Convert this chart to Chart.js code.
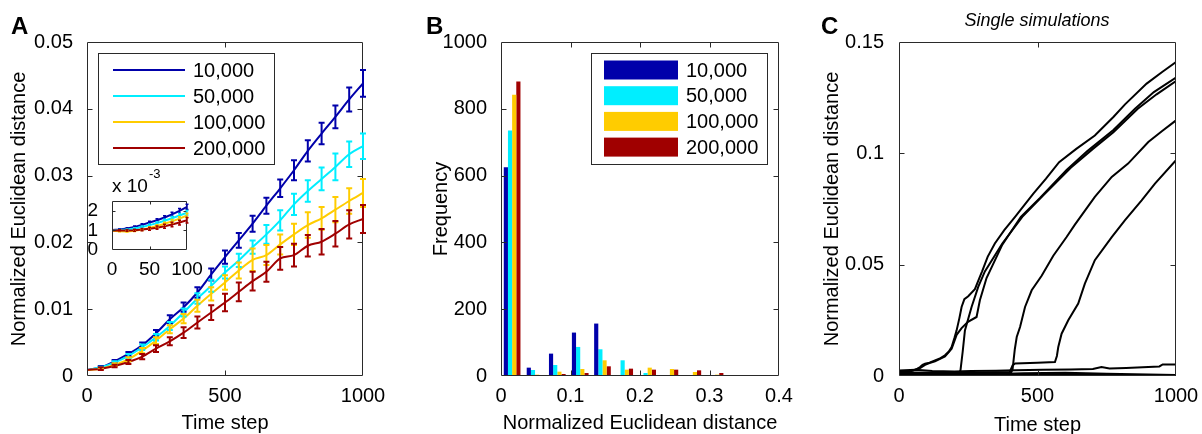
<!DOCTYPE html>
<html>
<head>
<meta charset="utf-8">
<script src="https://cdn.jsdelivr.net/npm/chart.js@4.4.1/dist/chart.umd.min.js"></script>
<style>
  html, body { margin: 0; padding: 0; background: #fff; }
  #wrap { position: relative; width: 1202px; height: 434px; overflow: hidden; background: #fff; }
  #wrap canvas { position: absolute; top: 0; }
</style>
</head>
<body>
<div id="wrap">
  <canvas id="panelA" width="400" height="434" style="left:0"></canvas>
  <canvas id="panelAInset" width="400" height="434" style="left:0"></canvas>
  <canvas id="panelB" width="400" height="434" style="left:400px"></canvas>
  <canvas id="panelC" width="402" height="434" style="left:800px"></canvas>
</div>
<script>
// ---------------- data ----------------
const seriesLabels = ['10,000', '50,000', '100,000', '200,000'];
const seriesColors = ['#0000AA', '#00EEFF', '#FFCC00', '#A00000'];

// Panel A: mean normalized Euclidean distance with error bars
const timeSteps = [0, 50, 100, 150, 200, 250, 300, 350, 400, 450, 500, 550, 600, 650, 700, 750, 800, 850, 900, 950, 1000];
const mean10k  = [0.0009, 0.0013, 0.0022, 0.0033, 0.0046, 0.0064, 0.0085, 0.0103, 0.0125, 0.0152, 0.0178, 0.0203, 0.0228, 0.0255, 0.0281, 0.0308, 0.0337, 0.0363, 0.0388, 0.0414, 0.0438];
const mean50k  = [0.0009, 0.0013, 0.0020, 0.0030, 0.0043, 0.0058, 0.0075, 0.0095, 0.0116, 0.0135, 0.0155, 0.0173, 0.0193, 0.0212, 0.0233, 0.0257, 0.0277, 0.0295, 0.0313, 0.0332, 0.0344];
const mean100k = [0.0009, 0.0011, 0.0017, 0.0025, 0.0038, 0.0053, 0.0070, 0.0086, 0.0105, 0.0123, 0.0140, 0.0158, 0.0174, 0.0181, 0.0197, 0.0212, 0.0226, 0.0236, 0.0249, 0.0262, 0.0274];
const mean200k = [0.0009, 0.0011, 0.0015, 0.0021, 0.0029, 0.0041, 0.0052, 0.0065, 0.0080, 0.0095, 0.0110, 0.0126, 0.0142, 0.0156, 0.0176, 0.0181, 0.0195, 0.0201, 0.0213, 0.0227, 0.0235];
const err10k   = [0.0001, 0.0002, 0.0002, 0.0003, 0.0004, 0.0005, 0.0006, 0.0007, 0.0008, 0.0009, 0.0010, 0.0011, 0.0012, 0.0012, 0.0013, 0.0015, 0.0016, 0.0016, 0.0017, 0.0018, 0.0020];
const err50k   = [0.0001, 0.0001, 0.0002, 0.0003, 0.0004, 0.0005, 0.0006, 0.0006, 0.0008, 0.0009, 0.0009, 0.0010, 0.0010, 0.0014, 0.0015, 0.0016, 0.0016, 0.0017, 0.0020, 0.0019, 0.0019];
const err100k  = [0.0001, 0.0001, 0.0002, 0.0003, 0.0004, 0.0005, 0.0006, 0.0007, 0.0009, 0.0010, 0.0011, 0.0012, 0.0017, 0.0015, 0.0015, 0.0016, 0.0019, 0.0017, 0.0019, 0.0019, 0.0021];
const err200k  = [0.0001, 0.0002, 0.0002, 0.0003, 0.0004, 0.0005, 0.0006, 0.0008, 0.0009, 0.0011, 0.0013, 0.0014, 0.0014, 0.0015, 0.0017, 0.0017, 0.0016, 0.0019, 0.0019, 0.0021, 0.0021];

// Panel A inset: first 100 steps, in units of 1e-3
const insetSteps = [0, 10, 20, 30, 40, 50, 60, 70, 80, 90, 100];
const inset10k  = [1.02, 1.05, 1.10, 1.18, 1.28, 1.40, 1.52, 1.66, 1.82, 2.00, 2.20];
const inset50k  = [1.00, 1.02, 1.05, 1.10, 1.17, 1.27, 1.37, 1.49, 1.62, 1.76, 1.90];
const inset100k = [0.98, 0.96, 0.95, 0.98, 1.04, 1.12, 1.22, 1.34, 1.46, 1.60, 1.76];
const inset200k = [1.00, 1.00, 1.00, 1.01, 1.04, 1.08, 1.14, 1.21, 1.30, 1.40, 1.52];
const insetErr10k  = [0.02, 0.03, 0.04, 0.05, 0.06, 0.07, 0.08, 0.09, 0.10, 0.12, 0.13];
const insetErr50k  = [0.02, 0.03, 0.03, 0.04, 0.05, 0.06, 0.07, 0.08, 0.09, 0.10, 0.12];
const insetErr100k = [0.02, 0.03, 0.03, 0.04, 0.05, 0.06, 0.07, 0.08, 0.09, 0.10, 0.12];
const insetErr200k = [0.02, 0.03, 0.04, 0.05, 0.06, 0.07, 0.08, 0.10, 0.11, 0.12, 0.14];

// Panel B: histogram of final distances
const binCenters = [0.016, 0.049, 0.081, 0.114, 0.146, 0.178, 0.211, 0.243, 0.276, 0.308];
const freq10k  = [625, 25, 67, 130, 157, 2, 0, 0, 0, 1];
const freq50k  = [735, 18, 33, 87, 80, 47, 9, 2, 0, 0];
const freq100k = [842, 4, 13, 21, 47, 19, 25, 21, 12, 4];
const freq200k = [882, 3, 6, 9, 29, 22, 19, 19, 17, 9];

// Panel C: single simulation runs, [time step, distance]
const run1 = [[0,0.0022],[40,0.0024],[60,0.0028],[76,0.0040],[85,0.0050],[94,0.0055],[110,0.0060],[130,0.0070],[150,0.0080],[166,0.0093],[180,0.0110],[190,0.0130],[200,0.0170],[208,0.0205],[218,0.0260],[226,0.0310],[236,0.0345],[250,0.0358],[274,0.0390],[290,0.0440],[300,0.0470],[320,0.0535],[346,0.0595],[380,0.0655],[419,0.0715],[485,0.0819],[530,0.0885],[578,0.0960],[640,0.1020],[707,0.1080],[774,0.1163],[816,0.1220],[894,0.1313],[950,0.1365],[1000,0.1410]];
const run2 = [[0,0.0018],[40,0.0020],[76,0.0036],[94,0.0050],[110,0.0058],[130,0.0066],[166,0.0088],[190,0.0122],[208,0.0185],[226,0.0215],[249,0.0243],[280,0.0265],[292,0.0340],[316,0.0440],[373,0.0590],[440,0.0715],[509,0.0800],[605,0.0925],[680,0.1010],[774,0.1105],[852,0.1200],[920,0.1275],[1000,0.1340]];
const run3 = [[0,0.0016],[120,0.0015],[218,0.0015],[222,0.0026],[230,0.0110],[238,0.0205],[262,0.0310],[286,0.0400],[310,0.0470],[373,0.0595],[445,0.0715],[520,0.0810],[620,0.0935],[700,0.1020],[774,0.1095],[862,0.1200],[930,0.1265],[1000,0.1325]];
const run4 = [[0,0.0010],[200,0.0012],[405,0.0016],[410,0.0030],[418,0.0120],[425,0.0175],[437,0.0220],[455,0.0310],[479,0.0385],[515,0.0450],[557,0.0540],[605,0.0624],[635,0.0680],[707,0.0804],[768,0.0894],[827,0.0954],[900,0.1051],[950,0.1100],[1000,0.1148]];
const run5 = [[0,0.0012],[200,0.0014],[400,0.0018],[410,0.0048],[419,0.0056],[500,0.0060],[563,0.0063],[570,0.0090],[575,0.0130],[587,0.0190],[611,0.0250],[647,0.0325],[671,0.0415],[707,0.0520],[768,0.0624],[816,0.0700],[876,0.0789],[924,0.0864],[1000,0.0969]];
const run6 = [[0,0.0025],[60,0.0028],[120,0.0022],[200,0.0020],[260,0.0022],[350,0.0024],[420,0.0026],[520,0.0028],[620,0.0029],[700,0.0031],[731,0.0040],[760,0.0034],[820,0.0036],[880,0.0039],[940,0.0043],[952,0.0052],[1000,0.0052]];
const run7 = [[0,0.0015],[150,0.0014],[300,0.0010],[500,0.0008],[700,0.0005],[1000,0.0003]];
const run8 = [[0,0.0008],[250,0.0006],[450,0.0012],[600,0.0015],[750,0.0010],[1000,0.0004]];
const singleRuns = [run1, run2, run3, run4, run5, run6, run7, run8];

// ---------------- helpers ----------------
Chart.defaults.font.family = '"Liberation Sans", Arial, Helvetica, sans-serif';
Chart.defaults.font.size = 20;
Chart.defaults.color = '#000';
Chart.defaults.animation = false;

const FONT = '"Liberation Sans", Arial, Helvetica, sans-serif';
const plainNumber = v => String(Math.round(v * 1e6) / 1e6);

// Pins the plotting area of a chart to a fixed rectangle of its canvas.
function pinnedArea(area, W, H) {
  return {
    padding: { left: 0, top: area.top, right: W - area.right, bottom: 0 },
    fitY: s => { s.width = area.left; s.paddingTop = 0; s.paddingBottom = 0; },
    fitX: s => { s.height = H - area.bottom; s.paddingLeft = 0; s.paddingRight = 0; }
  };
}

// Axis box with inward tick marks on all four sides.
const frameTicks = {
  id: 'frameTicks',
  beforeDatasetsDraw(chart, args, o) {
    if (o && o.fillArea) {
      const a = chart.chartArea;
      chart.ctx.save();
      chart.ctx.fillStyle = '#fff';
      chart.ctx.fillRect(a.left, a.top, a.right - a.left, a.bottom - a.top);
      chart.ctx.restore();
    }
  },
  afterDatasetsDraw(chart, args, o) {
    const { ctx, chartArea: a, scales: { x, y } } = chart;
    const len = (o && o.len) || 5;
    const L = Math.round(a.left) + 0.5, R = Math.round(a.right) - 0.5;
    const T = Math.round(a.top) + 0.5, B = Math.round(a.bottom) - 0.5;
    ctx.save();
    ctx.strokeStyle = '#2a2a2a';
    ctx.lineWidth = 1;
    ctx.beginPath();
    ctx.rect(L, T, R - L, B - T);
    x.ticks.forEach(t => {
      const px = Math.round(x.getPixelForValue(t.value)) + 0.5;
      if (px <= L + 1 || px >= R - 1) return;
      ctx.moveTo(px, B); ctx.lineTo(px, B - len);
      ctx.moveTo(px, T); ctx.lineTo(px, T + len);
    });
    y.ticks.forEach(t => {
      const py = Math.round(y.getPixelForValue(t.value)) + 0.5;
      if (py <= T + 1 || py >= B - 1) return;
      ctx.moveTo(L, py); ctx.lineTo(L + len, py);
      ctx.moveTo(R, py); ctx.lineTo(R - len, py);
    });
    ctx.stroke();
    ctx.restore();
  }
};

// Vertical error bars with caps, from each dataset's `errors` list.
const errorBars = {
  id: 'errorBars',
  afterDatasetsDraw(chart, args, o) {
    const { ctx, scales: { x, y } } = chart;
    const cap = (o && o.cap) || 3;
    ctx.save();
    ctx.lineWidth = (o && o.width) || 2;
    chart.data.datasets.forEach(ds => {
      if (!ds.errors) return;
      ctx.strokeStyle = ds.borderColor;
      ctx.beginPath();
      ds.data.forEach((p, j) => {
        const e = ds.errors[j];
        if (!e || j === 0) return;
        const px = x.getPixelForValue(p.x);
        const top = y.getPixelForValue(p.y + e);
        const bot = y.getPixelForValue(p.y - e);
        ctx.moveTo(px, top); ctx.lineTo(px, bot);
        ctx.moveTo(px - cap, top); ctx.lineTo(px + cap, top);
        ctx.moveTo(px - cap, bot); ctx.lineTo(px + cap, bot);
      });
      ctx.stroke();
    });
    ctx.restore();
  }
};

// Boxed legend drawn inside the plotting area.
const boxedLegend = {
  id: 'boxedLegend',
  afterDraw(chart, args, o) {
    if (!o || !o.show) return;
    const { ctx, chartArea: a } = chart;
    const x0 = Math.round(a.left + o.dx), y0 = Math.round(a.top + o.dy);
    ctx.save();
    ctx.fillStyle = '#fff';
    ctx.fillRect(x0, y0, o.w, o.h);
    ctx.strokeStyle = '#2a2a2a';
    ctx.lineWidth = 1;
    ctx.strokeRect(x0 + 0.5, y0 + 0.5, o.w, o.h);
    ctx.font = '20px ' + FONT;
    ctx.textBaseline = 'middle';
    chart.data.datasets.forEach((ds, i) => {
      const cy = y0 + o.firstRow + i * o.rowGap;
      if (o.kind === 'line') {
        ctx.strokeStyle = ds.borderColor;
        ctx.lineWidth = 2;
        ctx.beginPath();
        ctx.moveTo(x0 + o.s0, cy); ctx.lineTo(x0 + o.s1, cy);
        ctx.stroke();
      } else {
        ctx.fillStyle = ds.backgroundColor;
        ctx.fillRect(x0 + o.s0, cy - o.rh / 2, o.s1 - o.s0, o.rh);
      }
      ctx.fillStyle = '#000';
      ctx.fillText(ds.label, x0 + o.textX, cy + 1);
    });
    ctx.restore();
  }
};

// Panel letter and free-standing captions.
const captions = {
  id: 'captions',
  afterDraw(chart, args, o) {
    if (!o || !o.items) return;
    const ctx = chart.ctx;
    ctx.save();
    ctx.fillStyle = '#000';
    ctx.textBaseline = 'alphabetic';
    o.items.forEach(it => {
      ctx.font = it.font;
      ctx.textAlign = it.align || 'left';
      ctx.fillText(it.text, it.x, it.y);
    });
    ctx.restore();
  }
};

Chart.register(frameTicks, errorBars, boxedLegend, captions);

const toPoints = (xs, ys) => xs.map((x, i) => ({ x, y: ys[i] }));

function axisTitle(text, pad) {
  return { display: true, text, font: { size: 20, lineHeight: 1 }, padding: pad };
}

// ---------------- Panel A ----------------
const areaA = { left: 87, right: 363, top: 42, bottom: 376 };
const pinA = pinnedArea(areaA, 400, 434);
const meansA = [mean10k, mean50k, mean100k, mean200k];
const errsA = [err10k, err50k, err100k, err200k];

new Chart(document.getElementById('panelA'), {
  type: 'line',
  data: {
    datasets: meansA.map((m, i) => ({
      label: seriesLabels[i],
      data: toPoints(timeSteps, m),
      errors: errsA[i],
      borderColor: seriesColors[i],
      borderWidth: 2,
      pointRadius: 0,
      cubicInterpolationMode: 'monotone',
      order: 4 - i
    }))
  },
  options: {
    responsive: false,
    devicePixelRatio: 1,
    layout: { padding: pinA.padding },
    plugins: {
      legend: { display: false },
      tooltip: { enabled: false },
      errorBars: { width: 2, cap: 3 },
      boxedLegend: { show: true, kind: 'line', dx: 11, dy: 11, w: 176, h: 111, firstRow: 17, rowGap: 26, s0: 15, s1: 87, textX: 95 },
      captions: { items: [{ text: 'A', x: 11, y: 34, font: 'bold 24px ' + FONT }] }
    },
    scales: {
      x: {
        type: 'linear', min: 0, max: 1000,
        ticks: { stepSize: 500, padding: 0, callback: plainNumber, maxRotation: 0 },
        grid: { display: false },
        border: { display: false },
        title: axisTitle('Time step', { top: 0, bottom: 1 }),
        afterFit: pinA.fitX
      },
      y: {
        min: 0, max: 0.05,
        ticks: { stepSize: 0.01, padding: 6, callback: plainNumber, includeBounds: false },
        grid: { display: false },
        border: { display: false },
        title: axisTitle('Normalized Euclidean distance', { top: 9, bottom: 0 }),
        afterFit: pinA.fitY
      }
    }
  }
});

// ---------------- Panel A inset ----------------
const areaInset = { left: 112, right: 187, top: 201, bottom: 250 };
const pinInset = pinnedArea(areaInset, 400, 434);
const meansInset = [inset10k, inset50k, inset100k, inset200k];
const errsInset = [insetErr10k, insetErr50k, insetErr100k, insetErr200k];

new Chart(document.getElementById('panelAInset'), {
  type: 'line',
  data: {
    datasets: meansInset.map((m, i) => ({
      label: seriesLabels[i],
      data: toPoints(insetSteps, m),
      errors: errsInset[i],
      borderColor: seriesColors[i],
      borderWidth: 2,
      pointRadius: 0,
      order: 4 - i
    }))
  },
  options: {
    responsive: false,
    devicePixelRatio: 1,
    layout: { padding: pinInset.padding },
    plugins: {
      legend: { display: false },
      tooltip: { enabled: false },
      frameTicks: { fillArea: true, len: 3 },
      errorBars: { width: 1.5, cap: 1.5 },
      captions: { items: [
        { text: 'x 10', x: 112, y: 192, font: '19px ' + FONT },
        { text: '-3', x: 149, y: 178, font: '13px ' + FONT }
      ] }
    },
    scales: {
      x: {
        type: 'linear', min: 0, max: 100,
        ticks: { stepSize: 50, padding: 0, font: { size: 19 }, callback: plainNumber, maxRotation: 0, autoSkip: false },
        grid: { display: false },
        border: { display: false },
        afterFit: pinInset.fitX
      },
      y: {
        min: 0, max: 2.5,
        ticks: { stepSize: 1, padding: 6, font: { size: 19 }, callback: plainNumber, includeBounds: false, autoSkip: false },
        grid: { display: false },
        border: { display: false },
        afterFit: pinInset.fitY
      }
    }
  }
});

// ---------------- Panel B ----------------
const areaB = { left: 101, right: 379, top: 42, bottom: 376 };
const pinB = pinnedArea(areaB, 400, 434);
const freqsB = [freq10k, freq50k, freq100k, freq200k];

new Chart(document.getElementById('panelB'), {
  type: 'bar',
  data: {
    datasets: freqsB.map((f, i) => ({
      label: seriesLabels[i],
      data: toPoints(binCenters, f),
      backgroundColor: seriesColors[i],
      borderWidth: 0,
      categoryPercentage: 0.75,
      barPercentage: 1.0
    }))
  },
  options: {
    responsive: false,
    devicePixelRatio: 1,
    layout: { padding: pinB.padding },
    plugins: {
      legend: { display: false },
      tooltip: { enabled: false },
      boxedLegend: { show: true, kind: 'rect', dx: 90, dy: 11, w: 176, h: 111, firstRow: 17, rowGap: 25.7, s0: 13, s1: 87, rh: 19, textX: 95 },
      captions: { items: [{ text: 'B', x: 26, y: 34, font: 'bold 24px ' + FONT }] }
    },
    scales: {
      x: {
        type: 'linear', min: 0, max: 0.4, offset: false,
        ticks: { stepSize: 0.1, padding: 0, callback: plainNumber, maxRotation: 0 },
        grid: { display: false, offset: false },
        border: { display: false },
        title: axisTitle('Normalized Euclidean distance', { top: 0, bottom: 1 }),
        afterFit: pinB.fitX
      },
      y: {
        min: 0, max: 1000,
        ticks: { stepSize: 200, padding: 6, callback: plainNumber, includeBounds: false },
        grid: { display: false },
        border: { display: false },
        title: axisTitle('Frequency', { top: 31, bottom: 0 }),
        afterFit: pinB.fitY
      }
    }
  }
});

// ---------------- Panel C ----------------
const areaC = { left: 99, right: 376, top: 42, bottom: 376 };
const pinC = pinnedArea(areaC, 402, 434);

new Chart(document.getElementById('panelC'), {
  type: 'line',
  data: {
    datasets: singleRuns.map((run, i) => ({
      label: 'run ' + (i + 1),
      data: run.map(p => ({ x: p[0], y: p[1] })),
      borderColor: '#000',
      borderWidth: 2,
      pointRadius: 0,
      tension: 0
    }))
  },
  options: {
    responsive: false,
    devicePixelRatio: 1,
    layout: { padding: pinC.padding },
    plugins: {
      legend: { display: false },
      tooltip: { enabled: false },
      captions: { items: [
        { text: 'C', x: 21, y: 34, font: 'bold 24px ' + FONT },
        { text: 'Single simulations', x: 237, y: 26, align: 'center', font: 'italic 18px ' + FONT }
      ] }
    },
    scales: {
      x: {
        type: 'linear', min: 0, max: 1000,
        ticks: { stepSize: 500, padding: 0, callback: plainNumber, maxRotation: 0 },
        grid: { display: false },
        border: { display: false },
        title: axisTitle('Time step', { top: 0, bottom: -1 }),
        afterFit: pinC.fitX
      },
      y: {
        min: 0, max: 0.15,
        ticks: { stepSize: 0.05, padding: 7, callback: plainNumber, includeBounds: false },
        grid: { display: false },
        border: { display: false },
        title: axisTitle('Normalized Euclidean distance', { top: 22, bottom: 0 }),
        afterFit: pinC.fitY
      }
    }
  }
});
</script>
</body>
</html>
